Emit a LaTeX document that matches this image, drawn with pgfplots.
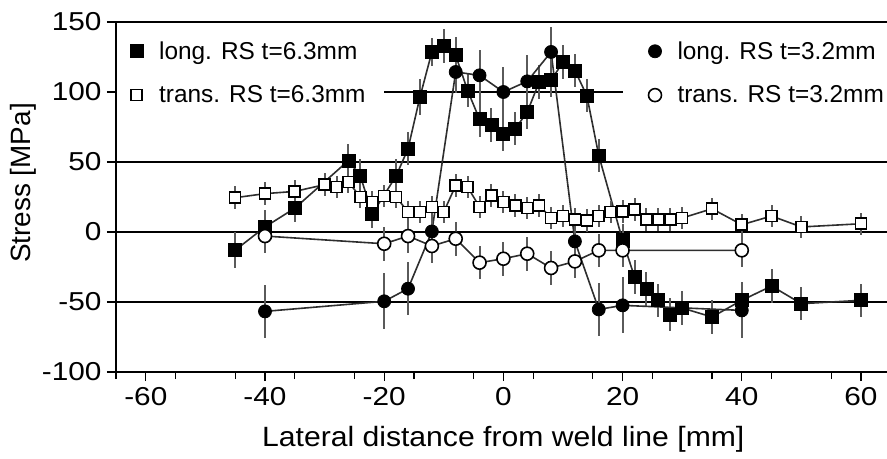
\documentclass[border=0pt]{standalone}
\usepackage{pgfplots}
\pgfplotsset{compat=1.18}
\usepackage{pgfplotstable}
\usepackage{fontspec}
\setmainfont{Liberation Sans}
\newfontfamily\wide[FakeStretch=1.15]{Liberation Sans}
\newfontfamily\wlab[FakeStretch=1.08]{Liberation Sans}
\definecolor{ln}{HTML}{2E2E2E}
\definecolor{eb}{HTML}{5A5A5A}

\pgfplotstableread{
x y e
-45 -13 13
-40 3.6 12
-35 17 10
-26 51 12
-24 40 12
-22 13 10
-18 40 12
-16 59.5 12
-14 96.4 13
-12 128.6 10
-10 132.9 12
-8 126.2 13
-6 101 12
-4 80.5 13
-2 76.6 12
0 70.2 12
2 73.8 12
4 85.7 12
6 107 12
8 108.3 12
10 121.4 12
12 115.4 12
14 97.4 12
16 54.7 12
20 -6 12
22 -32 12
24 -40.5 12
26 -48.8 12
28 -59 12
30 -54.3 12
35 -60.7 12
40 -48.8 12
45 -38.6 12
50 -51.2 12
60 -48.8 12
}\longA

\pgfplotstableread{
x y e
-40 -56.7 19
-20 -49.5 20
-16 -40.5 19
-12 0.4 12
-8 114.3 15
-4 111.9 18
0 100 18
4 107.6 19
8 128.6 18
12 -6.7 12
16 -55.3 19
20 -52.4 20
40 -56 20
}\longB

\pgfplotstableread{
x y e
-45 24.5 8
-40 27.4 8
-35 29 8
-30 33.8 8
-28 32.1 8
-26 35.7 8
-24 25 8
-22 21.4 8
-20 25.7 8
-18 25 8
-16 14.3 8
-14 14.3 8
-12 17.9 8
-10 14.3 8
-8 33.3 8
-6 32.1 8
-4 17.9 8
-2 26.1 8
0 21.4 8
2 19 8
4 17.1 8
6 19 8
8 10 8
10 11.4 8
12 9 8
14 8.3 8
16 11.4 8
18 14.3 8
20 14.7 8
22 16.1 8
24 9 8
26 9 8
28 9 8
30 10 8
35 16.6 8
40 5.2 8
45 11.4 8
50 3.6 8
60 5.9 8
}\transA

\pgfplotstableread{
x y e
-40 -2.9 12
-20 -8.4 12
-16 -2.9 12
-12 -10 12
-8 -4.8 12
-4 -21.9 12
0 -19.1 12
4 -15.5 12
8 -25.7 12
12 -21 12
16 -13.1 12
20 -13.1 12
40 -13.1 12
}\transB

\begin{document}
\begin{tikzpicture}
\begin{axis}[
  scale only axis,
  width=773bp, height=350bp,
  xmin=-65, xmax=64.7, ymin=-100, ymax=150,
  xtick={-60,-40,...,60}, minor xtick={-65,-55,...,65},
  ytick={-100,-50,...,150},
  tick align=outside, tick pos=left,
  major tick length=9bp, minor tick length=7bp,
  every tick/.style={black, line width=1.2bp},
  axis line style={black, line width=1.8bp},
  /pgf/number format/assume math mode=true,
  ticklabel style={font=\wide\fontsize{26}{29}\selectfont},
  xticklabel style={yshift=-3bp},
  yticklabel style={xshift=-2bp},
  xlabel={Lateral distance from weld line [mm]},
  ylabel={Stress [MPa]},
  xlabel style={font=\wlab\fontsize{28}{32}\selectfont,
    at={(axis description cs:0.501,0)}, anchor=base, yshift=-74bp},
  ylabel style={font=\fontsize{28}{32}\selectfont,
    at={(axis description cs:-0.1203,0.54)}, anchor=center},
  legend columns=2,
  legend cell align=left,
  legend style={at={(axis description cs:0.018,0.95)}, anchor=north west,
    draw=none, fill=none, inner sep=0pt,
    font=\fontsize{24.5}{28}\selectfont, row sep=21bp,
    /tikz/every odd column/.append style={column sep=14bp},
    /tikz/every even column/.append style={column sep=281bp}},
  legend image code/.code={\draw[#1, only marks] plot coordinates {(0bp,0bp)};},
  error bars/y dir=both, error bars/y explicit,
  error bars/error mark=none,
  error bars/error bar style={eb, line width=2bp},
]
\addplot[forget plot, black, line width=1.4bp] coordinates {(-65,50) (64.7,50)};
\addplot[forget plot, black, line width=1.4bp] coordinates {(-65,0) (64.7,0)};
\addplot[forget plot, black, line width=1.4bp] coordinates {(-65,-50) (64.7,-50)};
\addplot[forget plot, black, line width=1.4bp] coordinates {(-20,100) (20,100)};

\addplot[ln, line width=1.6bp, mark=square*, mark size=6.5bp,
  mark options={solid, fill=black, draw=black, line width=0.8bp}]
  table[x=x, y=y, y error=e] {\longA};
\addlegendentry{long. RS t=6.3mm}
\addplot[ln, line width=1.6bp, mark=*, mark size=6.5bp,
  mark options={solid, fill=black, draw=black, line width=0.8bp}]
  table[x=x, y=y, y error=e] {\longB};
\addlegendentry{long. RS t=3.2mm}
\addplot[ln, line width=1.6bp, mark=square*, mark size=5.5bp,
  mark options={solid, fill=white, draw=black, line width=1.6bp}]
  table[x=x, y=y, y error=e] {\transA};
\addlegendentry{trans. RS t=6.3mm}
\addplot[ln, line width=1.6bp, mark=*, mark size=6.5bp,
  mark options={solid, fill=white, draw=black, line width=1.6bp}]
  table[x=x, y=y, y error=e] {\transB};
\addlegendentry{trans. RS t=3.2mm}
\end{axis}
\pgfresetboundingbox
\useasboundingbox (-116bp,-87bp) rectangle (771bp,372bp);
\end{tikzpicture}
\end{document}
